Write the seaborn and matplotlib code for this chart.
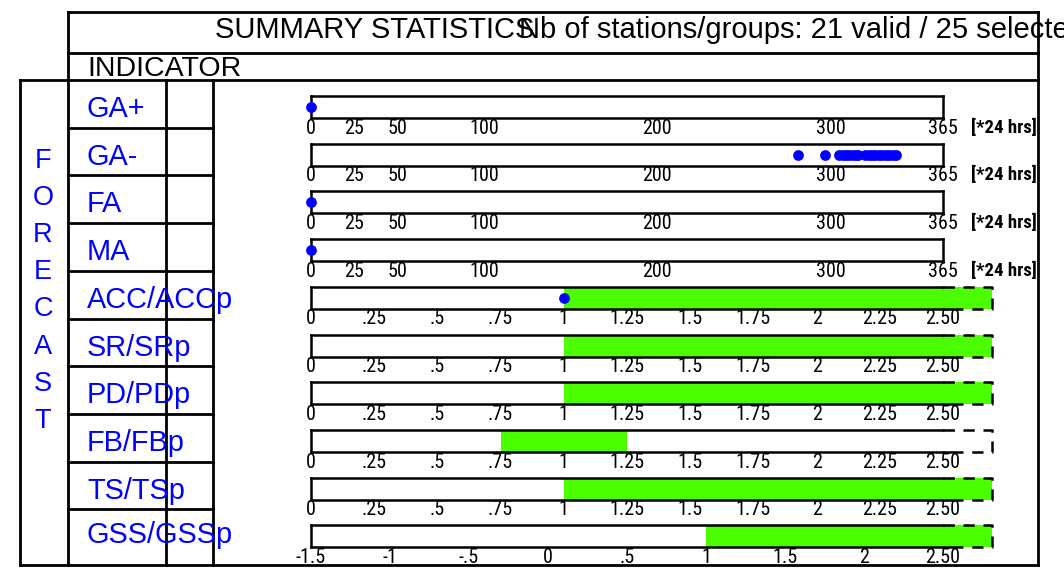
import numpy as np
import matplotlib
matplotlib.use('Agg')
import matplotlib.pyplot as plt
import seaborn as sns
from matplotlib import font_manager

# ---------------- data ----------------
title_left = "SUMMARY STATISTICS"
title_right = "Nb of stations/groups: 21 valid / 25 selected"
header = "INDICATOR"
side_label = "FORECAST"
unit_label = "[*24 hrs]"
indicators = ['GA+', 'GA-', 'FA', 'MA', 'ACC/ACCp', 'SR/SRp', 'PD/PDp', 'FB/FBp', 'TS/TSp', 'GSS/GSSp']

ga_plus_days = [0]
ga_minus_days = [281, 297, 305, 307, 309, 311, 313, 315, 316, 320, 322, 324, 326, 328, 330, 332, 334, 336, 338]
fa_days = [0]
ma_days = [0]
acc_values = [1.0]

day_ticks = [0, 25, 50, 100, 200, 300, 365]
day_tick_labels = ['0', '25', '50', '100', '200', '300', '365']
ratio_ticks = [0, .25, .5, .75, 1, 1.25, 1.5, 1.75, 2, 2.25, 2.5]
ratio_tick_labels = ['0', '.25', '.5', '.75', '1', '1.25', '1.5', '1.75', '2', '2.25', '2.50']
gss_ticks = [-1.5, -1, -.5, 0, .5, 1, 1.5, 2, 2.5]
gss_tick_labels = ['-1.5', '-1', '-.5', '0', '.5', '1', '1.5', '2', '2.50']

# green ranges per indicator (None = no bar, inf = open-ended beyond 2.50)
green_lo = [None, None, None, None, 1.0, 1.0, 1.0, 0.75, 1.0, 1.0]
green_hi = [None, None, None, None, np.inf, np.inf, np.inf, 1.25, np.inf, np.inf]

# ---------------- style ----------------
sns.set_style('white')
plt.rcParams['font.family'] = ['Liberation Sans', 'DejaVu Sans']


def has_font(name):
    try:
        font_manager.findfont(font_manager.FontProperties(family=name), fallback_to_default=False)
        return True
    except Exception:
        return False


narrow = 'Liberation Sans'
for cand in ['Liberation Sans Narrow', 'Roboto Condensed', 'Archivo Narrow', 'PT Sans Narrow']:
    if has_font(cand):
        narrow = cand
        break
tick_fs = 12.5 if narrow == 'Liberation Sans' else 14.5

W, H = 1064, 570
fig = plt.figure(figsize=(W / 100, H / 100), dpi=100)
fig.patch.set_facecolor('white')

bg = fig.add_axes([0, 0, 1, 1])
bg.set_xlim(0, W)
bg.set_ylim(H, 0)
bg.axis('off')

LW = 2.0


def hline(y, xa, xb):
    bg.plot([xa, xb], [y, y], color='black', lw=LW, solid_capstyle='projecting')


def vline(x, ya, yb):
    bg.plot([x, x], [ya, yb], color='black', lw=LW, solid_capstyle='projecting')


row0, row_h = 80, 47.7
hline(12, 68, 1038)
hline(53, 68, 1038)
hline(80, 20, 1038)
hline(565, 20, 1038)
vline(68, 12, 565)
vline(1038, 12, 565)
vline(20, 80, 565)
vline(166, 80, 565)
vline(213, 80, 565)
for i in range(1, len(indicators)):
    hline(row0 + row_h * i, 68, 213)

bg.text(215, 38, title_left, fontsize=21, va='baseline', ha='left', color='black')
bg.text(519, 38, title_right, fontsize=21, va='baseline', ha='left', color='black')
bg.text(87, 76, header, fontsize=20.5, va='baseline', ha='left', color='black')

for i, name in enumerate(indicators):
    off = 34 if i == len(indicators) - 1 else 37
    bg.text(87, row0 + row_h * i + off, name, fontsize=20.8, va='baseline', ha='left', color='#0000ff')

for i, ch in enumerate(side_label):
    bg.text(43, 168 + 37.1 * i, ch, fontsize=19.5, va='baseline', ha='center', color='#0000ff')

# ---------------- row axes ----------------
x0, x1 = 311, 943
box_top0, box_h = 96, 22
solid_ext = (953 - x0) / (x1 - x0)
dash_ext = (992 - x0) / (x1 - x0)
GREEN = '#4cff00'

points = {0: ga_plus_days, 1: ga_minus_days, 2: fa_days, 3: ma_days, 4: acc_values}

for i, name in enumerate(indicators):
    top = box_top0 + row_h * i
    bottom = top + box_h
    ax = fig.add_axes([x0 / W, 1 - bottom / H, (x1 - x0) / W, box_h / H])
    ax.patch.set_alpha(0)
    if i < 4:
        vmin, vmax, ticks, labels = 0, 365, day_ticks, day_tick_labels
    elif i < 9:
        vmin, vmax, ticks, labels = 0, 2.5, ratio_ticks, ratio_tick_labels
    else:
        vmin, vmax, ticks, labels = -1.5, 2.5, gss_ticks, gss_tick_labels

    if green_lo[i] is not None:
        hi = green_hi[i]
        if np.isinf(hi):
            hi = vmin + dash_ext * (vmax - vmin)
        ax.barh(0.5, hi - green_lo[i], left=green_lo[i], height=1.0, color=GREEN,
                edgecolor='none', clip_on=False, zorder=1)

    if i in points:
        vals = points[i]
        sns.scatterplot(x=vals, y=np.full(len(vals), 0.5), ax=ax, color='#0000ff', s=60,
                        linewidth=0, clip_on=False, zorder=5, legend=False)

    ax.set_xlim(vmin, vmax)
    ax.set_ylim(0, 1)
    ax.set_xlabel('')
    ax.set_ylabel('')
    ax.set_yticks([])
    ax.set_xticks(ticks)
    ax.set_xticklabels(labels, fontsize=tick_fs, family=narrow)
    ax.tick_params(axis='x', direction='in', length=4.5, width=1.5, pad=0.5, colors='black')
    for s in ['left', 'top', 'bottom', 'right']:
        ax.spines[s].set_color('black')
        ax.spines[s].set_linewidth(1.8)
        ax.spines[s].set_zorder(3)
    if i < 4:
        ax.spines['right'].set_visible(True)
        bg.text(971, bottom + 9.5, unit_label, fontsize=13.5, fontweight='bold', family=narrow,
                va='center', ha='left', color='black')
    else:
        ax.spines['right'].set_visible(False)
        for yy in (0, 1):
            ax.plot([1, solid_ext], [yy, yy], transform=ax.transAxes, color='black', lw=1.8,
                    clip_on=False, zorder=3)
        ax.plot([solid_ext, dash_ext, dash_ext, solid_ext], [1, 1, 0, 0], transform=ax.transAxes,
                color='black', lw=1.8, linestyle=(4, (4.5, 3.5)), clip_on=False, zorder=3)

fig.savefig('out.png', dpi=100, facecolor='white')
